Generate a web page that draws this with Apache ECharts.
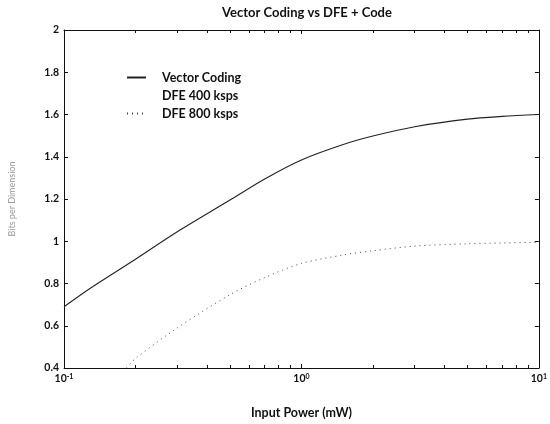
<!DOCTYPE html>
<html>
<head>
<meta charset="utf-8">
<script src="https://cdn.jsdelivr.net/npm/echarts@6/dist/echarts.min.js"></script>
<style>
  html, body { margin: 0; padding: 0; background: #fff; }
  #chart { width: 550px; height: 424px; }
</style>
</head>
<body>
<div id="chart"></div>
<script>
// Input power (mW) sample points and bits per dimension for each scheme
const vcPower = [0.1, 0.13, 0.2, 0.3, 0.5, 0.7, 1, 1.5, 2, 3, 5, 7, 10];
const vcBits  = [0.69, 0.78, 0.915, 1.045, 1.195, 1.295, 1.385, 1.458, 1.498, 1.542, 1.578, 1.591, 1.600];

// the 400 ksps trace is listed in the legend only
const dfe400Power = [];
const dfe400Bits  = [];

const dfe800Power = [0.183, 0.2, 0.3, 0.5, 0.7, 1, 1.5, 2, 3, 5, 7, 10];
const dfe800Bits  = [0.40, 0.445, 0.59, 0.747, 0.828, 0.895, 0.935, 0.955, 0.977, 0.988, 0.992, 0.995];

const yTicks = [0.4, 0.6, 0.8, 1, 1.2, 1.4, 1.6, 1.8, 2];
const xTickExp = { 0.1: '-1', 1: '0', 10: '1' };

const seriesNames = ['Vector Coding', 'DFE 400 ksps', 'DFE 800 ksps'];

function pairs(xs, ys) { return xs.map((x, i) => [x, ys[i]]); }

const FONT = 'Lato, "DejaVu Sans", sans-serif';
const INK = '#111';

const chart = echarts.init(document.getElementById('chart'), null, { renderer: 'canvas' });

const frameAxisLine = { show: true, lineStyle: { color: INK, width: 1 } };

chart.setOption({
  animation: false,
  backgroundColor: '#fff',
  title: {
    text: 'Vector Coding vs DFE + Code',
    left: 307, top: 6, textAlign: 'center', padding: 0,
    textStyle: { fontFamily: FONT, fontSize: 13, fontWeight: 'bold', color: INK }
  },
  grid: { left: 60, right: 3, top: 30, bottom: 49 },
  legend: {
    orient: 'vertical',
    left: 126, top: 71, padding: 0,
    itemWidth: 19, itemHeight: 11, itemGap: 5,
    data: seriesNames,
    itemStyle: { opacity: 0 },
    textStyle: { fontFamily: FONT, fontSize: 12.5, fontWeight: 'bold', color: INK, padding: [0, 0, 0, 11] },
    selectedMode: false
  },
  xAxis: [
    {
      type: 'log', logBase: 10, min: 0.1, max: 10,
      name: 'Input Power (mW)', nameLocation: 'middle', nameGap: 38,
      nameTextStyle: { fontFamily: FONT, fontSize: 12.5, fontWeight: 'bold', color: INK },
      axisLine: frameAxisLine,
      axisTick: { show: true, inside: true, length: 4, lineStyle: { color: INK } },
      minorTick: { show: true, splitNumber: 9, length: 3, lineStyle: { color: INK } },
      splitLine: { show: false },
      minorSplitLine: { show: false },
      axisLabel: {
        margin: 5,
        fontFamily: FONT, fontSize: 10.5, fontWeight: 'bold', color: INK,
        formatter: v => '10{sup|' + (xTickExp[v] !== undefined ? xTickExp[v] : '') + '}',
        rich: { sup: { fontFamily: FONT, fontSize: 7, fontWeight: 'bold', color: INK, verticalAlign: 'top', padding: [0, 0, 5, 0] } }
      }
    },
    {
      type: 'log', logBase: 10, min: 0.1, max: 10, position: 'top',
      axisLine: frameAxisLine,
      axisTick: { show: true, inside: true, length: 4, lineStyle: { color: INK } },
      minorTick: { show: true, splitNumber: 9, length: 3, lineStyle: { color: INK } },
      splitLine: { show: false },
      axisLabel: { show: false }
    }
  ],
  yAxis: [
    {
      type: 'value', min: 0.4, max: 2, interval: 0.2,
      name: 'Bits per Dimension', nameLocation: 'middle', nameGap: 47,
      nameTextStyle: { fontFamily: FONT, fontSize: 9, color: '#9a9a9a' },
      axisLine: frameAxisLine,
      axisTick: { show: true, inside: true, length: 4, lineStyle: { color: INK } },
      splitLine: { show: false },
      axisLabel: {
        margin: 5,
        fontFamily: FONT, fontSize: 10.5, fontWeight: 'bold', color: INK,
        formatter: v => yTicks.includes(+v.toFixed(1)) ? String(+v.toFixed(1)) : ''
      }
    },
    {
      type: 'value', min: 0.4, max: 2, interval: 0.2, position: 'right',
      axisLine: frameAxisLine,
      axisTick: { show: true, inside: true, length: 4, lineStyle: { color: INK } },
      splitLine: { show: false },
      axisLabel: { show: false }
    }
  ],
  series: [
    {
      name: seriesNames[0], type: 'line', smooth: 0.3, symbol: 'none',
      data: pairs(vcPower, vcBits),
      lineStyle: { color: '#222', width: 1.1, type: 'solid' },
      itemStyle: { color: '#222' }
    },
    {
      name: seriesNames[1], type: 'line', symbol: 'none',
      data: pairs(dfe400Power, dfe400Bits),
      lineStyle: { color: '#fff', width: 1, opacity: 0 },
      itemStyle: { color: '#fff', opacity: 0 }
    },
    {
      name: seriesNames[2], type: 'line', smooth: 0.3, symbol: 'none',
      data: pairs(dfe800Power, dfe800Bits),
      lineStyle: { color: '#444', width: 1, type: [1, 4] },
      itemStyle: { color: '#444' }
    }
  ]
});
</script>
</body>
</html>
